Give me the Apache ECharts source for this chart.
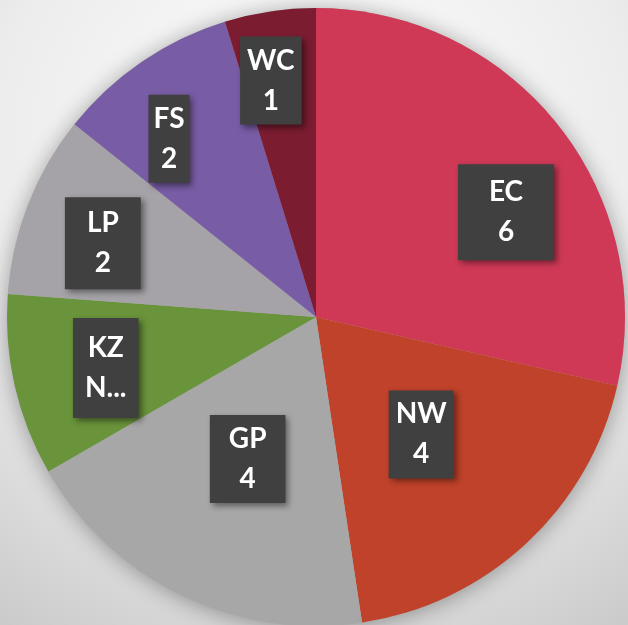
<!DOCTYPE html>
<html>
<head>
<meta charset="utf-8">
<script src="https://cdn.jsdelivr.net/npm/echarts@6/dist/echarts.min.js"></script>
<style>
  html, body { margin: 0; padding: 0; background: #fff; }
  #chart { width: 628px; height: 625px; }
</style>
</head>
<body>
<div id="chart"></div>
<script>
// ---- data ----
const categories = ['EC', 'NW', 'GP', 'KZN', 'LP', 'FS', 'WC'];
const values     = [6, 4, 4, 2, 2, 2, 1];

// ---- styles (kept apart from data) ----
const colors = {
  EC: '#CF3956', NW: '#C0422A', GP: '#A7A7A7', KZN: '#6A943B',
  LP: '#A5A3A7', FS: '#785CA5', WC: '#7B1C31'
};
// labels drawn at mid radius (inner pie) vs. outer ring
const innerLabelCats = ['NW', 'GP'];
const hPad = { EC: 31, NW: 7, GP: 19, KZN: 12, LP: 22, FS: 5, WC: 7 };
const vPad = { EC: 8, NW: 4, GP: 4, KZN: 10, LP: 6, FS: 4, WC: 4 };
const labelNudge = { EC: [11, 38], NW: [-2, 2], GP: [0, 0], KZN: [13, 0], LP: [0, 10], FS: [-18, 11], WC: [-11, -10] };
const truncatedNames = { KZN: 'KZ\nN...' };

function labelText(name, value) {
  if (truncatedNames[name]) return truncatedNames[name];
  return name + '\n' + value;
}

const baseLabel = {
  show: true,
  position: 'inside',
  color: '#ffffff',
  fontFamily: 'Lato, "Open Sans", sans-serif',
  fontWeight: 'bold',
  fontSize: 28,
  lineHeight: 40,
  backgroundColor: '#404040',
  shadowColor: 'rgba(0,0,0,0.45)',
  shadowBlur: 6,
  shadowOffsetX: 3,
  shadowOffsetY: 3,
  formatter: p => labelText(p.name, p.value)
};

function itemLabel(name, visible) {
  return Object.assign({}, baseLabel, {
    show: visible,
    padding: [vPad[name], hPad[name]],
    offset: labelNudge[name]
  });
}

const center = [316, 317];
const R = 309;

const mainData = categories.map((c, i) => ({
  name: c, value: values[i],
  itemStyle: { color: colors[c] },
  label: itemLabel(c, innerLabelCats.includes(c))
}));
const ringData = categories.map((c, i) => ({
  name: c, value: values[i],
  itemStyle: { color: 'rgba(0,0,0,0)' },
  label: itemLabel(c, !innerLabelCats.includes(c))
}));

const chart = echarts.init(document.getElementById('chart'), null, { renderer: 'canvas' });
chart.setOption({
  animation: false,
  backgroundColor: {
    type: 'radial', x: 0.5, y: 0.25, r: 0.95,
    colorStops: [
      { offset: 0, color: '#ffffff' },
      { offset: 0.55, color: '#ececec' },
      { offset: 1, color: '#c6c6c6' }
    ]
  },
  series: [
    {
      type: 'pie', silent: true, center: center, radius: [0, R],
      label: { show: false }, labelLine: { show: false },
      itemStyle: { color: '#aaaaaa', shadowBlur: 22, shadowColor: 'rgba(0,0,0,0.35)', shadowOffsetY: 2 },
      emphasis: { disabled: true },
      data: [{ name: 'shadow', value: 1 }]
    },
    {
      type: 'pie', silent: true, center: center, radius: [0, R],
      startAngle: 90, clockwise: true,
      labelLine: { show: false },
      emphasis: { disabled: true },
      data: mainData
    },
    {
      type: 'pie', silent: true, center: center, radius: [143, R],
      startAngle: 90, clockwise: true,
      labelLine: { show: false },
      emphasis: { disabled: true },
      data: ringData
    }
  ]
});
</script>
</body>
</html>
